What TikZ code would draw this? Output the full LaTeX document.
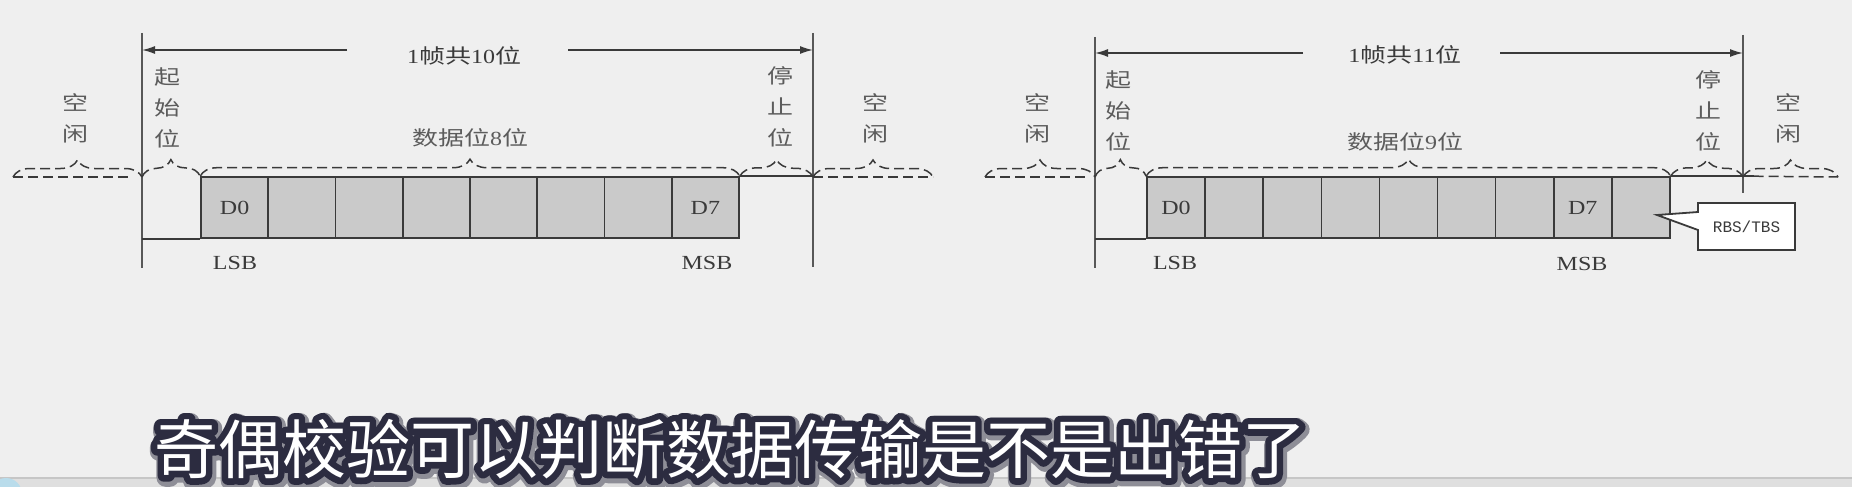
\documentclass[tikz,border=0pt]{standalone}
\usepackage{fontspec}
\setmainfont{Liberation Serif}[FakeStretch=1.2]
\newfontfamily\cjk{Noto Sans CJK SC}[FakeStretch=1.3]
\newfontfamily\monofnt{Liberation Mono}
\newfontfamily\subfnt{Noto Sans CJK SC}
\newfontfamily\subrim{Noto Sans CJK SC}[FakeBold=20]
\newfontfamily\subshade{Noto Sans CJK SC}[FakeBold=28]
\usetikzlibrary{decorations.pathreplacing,shapes.callouts,arrows.meta,calc}
\definecolor{bg}{HTML}{EFEFEF}
\definecolor{cell}{HTML}{CACACA}
\definecolor{ink}{HTML}{3A3A3A}
\definecolor{lbl}{HTML}{5C5C5C}
\definecolor{rim}{HTML}{2C2C40}
\definecolor{strip}{HTML}{C6C6C6}
\definecolor{blob}{HTML}{B9DCEB}
\tikzset{
  bitcell/.style={draw=ink, line width=1.6, fill=cell, minimum height=61, inner sep=0},
  sig/.style={draw=ink, line width=1.6},
  idle/.style={draw=ink, line width=1.5, dash pattern=on 10pt off 5pt},
  bracket/.style={idle, decorate, decoration={brace, amplitude=17pt}},
  vlbl/.style={text=lbl, font=\cjk\fontsize{20}{31}\selectfont, align=center, inner sep=0},
  bitlbl/.style={text=ink, font=\fontsize{20}{24}\selectfont, inner sep=0},
  ttl/.style={text=ink, font=\fontsize{20}{24}\selectfont, inner sep=0},
  arr/.style={draw=ink, line width=1.5, -{Latex[length=13pt,width=8pt]}},
  subtxt/.style={font=\fontsize{64}{70}\selectfont, inner sep=0, line join=round}
}
\begin{document}
\begin{tikzpicture}[x=1pt,y=-1pt]
\fill[bg] (0,0) rectangle (1852,487);
\useasboundingbox (0,0) rectangle (1852,487);
\fill[strip!40!bg] (0,478) rectangle (1852,487);
\draw[strip, line width=1.2] (0,478) -- (1852,478);
\fill[blob] (6,494) circle (16);

% 10 bit frame
\coordinate (s1t) at (142,33);
\coordinate (s1b) at (142,268);
\coordinate (e1t) at (813,33);
\coordinate (e1b) at (813,267);
\coordinate (i1a) at (13,177);
\coordinate (i1b) at (933,177);
\foreach \i in {1,...,8}
  \node[bitcell, minimum width=67.25] (l\i) at ({201+(\i-0.5)*67.25},207.5) {};
\node[bitlbl] (d0l) at (l1) {D0};
\node[bitlbl] (d7l) at (l8) {D7};
\node[bitlbl] (lsbl) at (235,263) {LSB};
\node[bitlbl] (msbl) at (707,263) {MSB};
\draw[sig, draw=ink!85] (s1t) -- (s1b);
\draw[sig, draw=ink!85] (e1t) -- (e1b);
\draw[sig] (s1b |- l1.south) -- (l1.south west);
\draw[sig] (l8.north east) -- (l8.north east -| e1t);
\draw[idle] (i1a) -- ++(119,0);
\draw[idle] (e1t |- i1a) -- (i1b);
\draw[bracket] (i1a) -- (s1t |- i1a);
\draw[bracket] (s1t |- i1a) -- (l1.north west);
\draw[bracket] (l1.north west) -- (l8.north east);
\draw[bracket] (l8.north east) -- (e1t |- i1a);
\draw[bracket] (e1t |- i1a) -- (i1b);
\node[ttl] (t1) at (464,56) {1{\cjk 帧共}10{\cjk 位}};
\coordinate (a1) at (347,50);
\coordinate (b1) at (568,50);
\draw[arr] (a1) -- (a1 -| s1t);
\draw[arr] (b1) -- (b1 -| e1t);
\node[vlbl] (kx1) at (75,118) {空\\闲};
\node[vlbl] (qs1) at (167,108) {起\\始\\位};
\node[vlbl, font=\fontsize{20}{24}\selectfont] (sj1) at (470,138) {{\cjk 数据位}8{\cjk 位}};
\node[vlbl] (tz1) at (780,107) {停\\止\\位};
\node[vlbl] (kx2) at (875,118) {空\\闲};

% 11 bit frame
\coordinate (s2t) at (1095,37);
\coordinate (s2b) at (1095,268);
\coordinate (e2t) at (1743,35);
\coordinate (e2b) at (1743,193);
\coordinate (i2a) at (985,177);
\coordinate (i2b) at (1838,177);
\foreach \i in {1,...,9}
  \node[bitcell, minimum width=58.1] (r\i) at ({1147+(\i-0.5)*58.1},207.5) {};
\node[bitlbl] (d0r) at (r1) {D0};
\node[bitlbl] (d7r) at (r8) {D7};
\node[bitlbl] (lsbr) at (1175,263) {LSB};
\node[bitlbl] (msbr) at (1582,264) {MSB};
\draw[sig, draw=ink!85] (s2t) -- (s2b);
\draw[sig, draw=ink!85] (e2t) -- (e2b);
\draw[sig] (s2b |- r1.south) -- (r1.south west);
\draw[sig] (r9.north east) -- ++(83,0) coordinate (h2);
\draw[idle] (i2a) -- ++(100,0);
\draw[idle] (h2) -- (i2b);
\draw[bracket] (i2a) -- (s2t |- i2a);
\draw[bracket] (s2t |- i2a) -- (r1.north west);
\draw[bracket] (r1.north west) -- (r9.north east);
\draw[bracket] (r9.north east) -- (e2t |- i2a);
\draw[bracket] (e2t |- i2a) -- (i2b);
\node[ttl] (t2) at (1405,55) {1{\cjk 帧共}11{\cjk 位}};
\coordinate (a2) at (1303,53);
\coordinate (b2) at (1500,53);
\draw[arr] (a2) -- (a2 -| s2t);
\draw[arr] (b2) -- (b2 -| e2t);
\node[vlbl] (kx3) at (1037,118) {空\\闲};
\node[vlbl] (qs2) at (1118,111) {起\\始\\位};
\node[vlbl, font=\fontsize{20}{24}\selectfont] (sj2) at (1405,142) {{\cjk 数据位}9{\cjk 位}};
\node[vlbl] (tz2) at (1708,111) {停\\止\\位};
\node[vlbl] (kx4) at (1788,118) {空\\闲};
\node[rectangle callout, draw=ink, line width=1.8, fill=white, minimum width=97, minimum height=47,
  callout absolute pointer={(1657,215)}, callout pointer width=18pt,
  font=\monofnt\fontsize{16}{18}\selectfont, text=ink] (rbs) at (1746.5,226.5) {RBS/TBS};

% subtitle
\begin{scope}[line join=round]
\coordinate (sub) at (730,449);
\node[subtxt, text=rim!50!bg] (subs) at ($(sub)+(1.5,2.5)$) {\subshade 奇偶校验可以判断数据传输是不是出错了};
\node[subtxt, text=rim] (subo) at (sub) {\subrim 奇偶校验可以判断数据传输是不是出错了};
\node[subtxt, text=white] (subl) at (sub) {\subfnt 奇偶校验可以判断数据传输是不是出错了};
\end{scope}
\end{tikzpicture}
\end{document}
